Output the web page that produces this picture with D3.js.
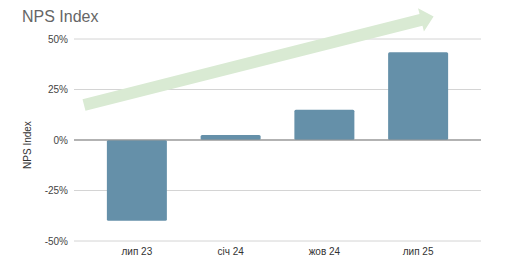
<!DOCTYPE html>
<html>
<head>
<meta charset="utf-8">
<script src="https://cdn.jsdelivr.net/npm/d3@7"></script>
<style>
  body { margin: 0; background: #fff; }
  text { font-family: Arial, "Liberation Sans", sans-serif; }
</style>
</head>
<body>
<svg width="512" height="264"></svg>
<script>
var categories = ["лип 23", "січ 24", "жов 24", "лип 25"];
var npsValues = [-40, 2.5, 15, 43.5];
var yTicks = [-50, -25, 0, 25, 50];

var svg = d3.select("svg");

var xScale = d3.scaleBand().domain(categories).range([90, 465])
      .paddingInner(0.36).paddingOuter(0.18),
    yScale = d3.scaleLinear().domain([-50, 50]).range([241, 39]);

svg.append("text")
   .attr("x", 22).attr("y", 22)
   .attr("font-size", 16).attr("fill", "#666")
   .text("NPS Index");

// gridlines
svg.append("g").selectAll("line")
   .data(yTicks)
   .enter().append("line")
   .attr("x1", 74).attr("x2", 481)
   .attr("y1", function(d) { return yScale(d); })
   .attr("y2", function(d) { return yScale(d); })
   .attr("stroke", function(d) { return d === 0 ? "#999" : "#d4d4d4"; })
   .attr("stroke-width", 1);

svg.append("g").selectAll("text")
   .data(yTicks)
   .enter().append("text")
   .attr("x", 68)
   .attr("y", function(d) { return yScale(d) + 3.5; })
   .attr("text-anchor", "end")
   .attr("font-size", 10).attr("fill", "#444")
   .text(function(d) { return d + "%"; });

svg.append("text")
   .attr("transform", "translate(31," + yScale(-2.5) + ") rotate(-90)")
   .attr("text-anchor", "middle")
   .attr("font-size", 10).attr("fill", "#333")
   .text("NPS Index");

// trend arrow (light green)
var a0 = [84, yScale(17.3)], a1 = [421, yScale(59.5)];
var dx = a1[0] - a0[0], dy = a1[1] - a0[1], len = Math.sqrt(dx * dx + dy * dy);
var ux = dx / len, uy = dy / len, nx = -uy, ny = ux;
var hw = 6, hh = 12, hl = 13;
var pts = [
  [a0[0] + nx * hw, a0[1] + ny * hw],
  [a1[0] + nx * hw, a1[1] + ny * hw],
  [a1[0] + nx * hh, a1[1] + ny * hh],
  [a1[0] + ux * hl, a1[1] + uy * hl],
  [a1[0] - nx * hh, a1[1] - ny * hh],
  [a1[0] - nx * hw, a1[1] - ny * hw],
  [a0[0] - nx * hw, a0[1] - ny * hw]
];
svg.append("path")
   .attr("d", d3.line()(pts) + "Z")
   .attr("fill", "#d9ead3");

svg.selectAll(".bar")
   .data(npsValues)
   .enter().append("rect")
   .attr("class", "bar")
   .attr("x", function(d, i) { return xScale(categories[i]); })
   .attr("y", function(d) { return yScale(Math.max(0, d)); })
   .attr("width", xScale.bandwidth())
   .attr("height", function(d) { return Math.abs(yScale(d) - yScale(0)); })
   .attr("rx", 1.5)
   .attr("fill", "#6590a9");

svg.append("line")
   .attr("x1", 74).attr("x2", 481)
   .attr("y1", yScale(0)).attr("y2", yScale(0))
   .attr("stroke", "#999");

svg.append("g").selectAll("text")
   .data(categories)
   .enter().append("text")
   .attr("x", function(d) { return xScale(d) + xScale.bandwidth() / 2; })
   .attr("y", 255)
   .attr("text-anchor", "middle")
   .attr("font-size", 10).attr("fill", "#333")
   .text(function(d) { return d; });
</script>
</body>
</html>
